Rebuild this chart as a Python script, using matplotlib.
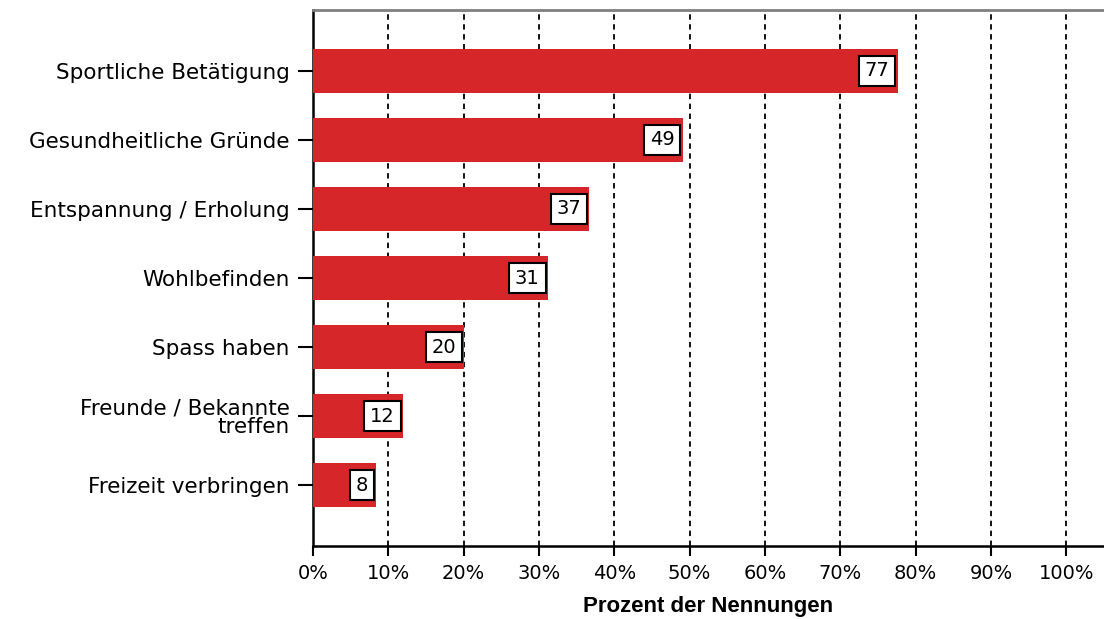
import matplotlib.pyplot as plt
from matplotlib.ticker import FuncFormatter

plt.rcParams['font.family'] = ['DejaVu Sans']

categories = ['Sportliche Betätigung', 'Gesundheitliche Gründe', 'Entspannung / Erholung',
              'Wohlbefinden', 'Spass haben', 'Freunde / Bekannte\ntreffen', 'Freizeit verbringen']
values = [77.6, 49.1, 36.7, 31.2, 20.1, 12.0, 8.4]
labels = ['77', '49', '37', '31', '20', '12', '8']
ticks = list(range(0, 101, 10))

fig = plt.figure(figsize=(11.04, 6.19), dpi=100)
ax = fig.add_axes([313 / 1104, 1 - 546 / 619, 1 - 313 / 1104, (546 - 10) / 619])

y = list(range(len(categories)))
ax.barh(y, values, height=0.65, color='#d7262a', zorder=3)

for yi, v, lab in zip(y, values, labels):
    ax.annotate(lab, (v, yi), xytext=(-6, 0), textcoords='offset points',
                ha='right', va='center', fontsize=14, zorder=5,
                bbox=dict(boxstyle='square,pad=0.3', fc='white', ec='black', lw=1.5))

ax.set_ylim(len(categories) - 1 + 0.884, -0.884)
ax.set_xlim(0, 105)
ax.set_yticks(y)
ax.set_yticklabels(categories, fontsize=15.5, linespacing=0.95, ha='right')
ax.set_xticks(ticks)
ax.xaxis.set_major_formatter(FuncFormatter(lambda v, p: f'{int(v)}%'))
ax.tick_params(axis='x', labelsize=14, length=7, width=1.5, direction='out', pad=6)
ax.tick_params(axis='y', length=11, width=1.5, direction='out', pad=6)

for t in ticks[1:]:
    ax.axvline(t, color='black', ls=(0, (3, 2.5)), lw=1.3, zorder=1)

ax.spines['right'].set_visible(False)
ax.spines['top'].set_color('#808080')
ax.spines['top'].set_linewidth(2)
ax.spines['left'].set_linewidth(1.8)
ax.spines['bottom'].set_linewidth(1.8)

ax.set_xlabel('Prozent der Nennungen', fontsize=16, fontweight='bold', labelpad=9,
              family='Liberation Sans')

fig.savefig('out.png', dpi=100)
